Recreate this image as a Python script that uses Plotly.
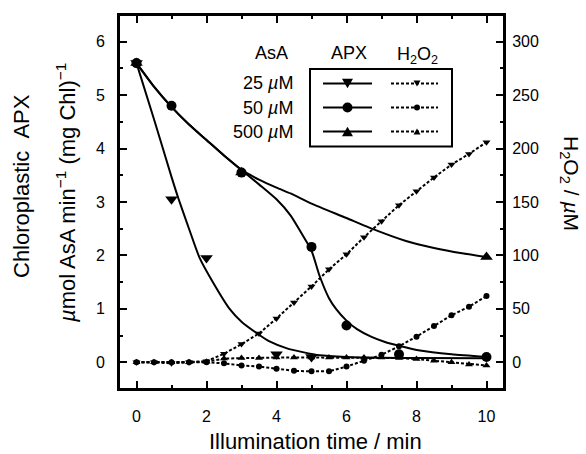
import plotly.graph_objects as go

# ---------------- data ----------------
# APX activity, measured points (left axis, µmol AsA min-1 (mg Chl)-1)
apx25_t = [0, 1, 2, 4, 5]
apx25_v = [5.6, 3.05, 1.95, 0.15, 0.1]
apx50_t = [0, 1, 3, 5, 6, 7.5, 10]
apx50_v = [5.6, 4.8, 3.55, 2.16, 0.69, 0.15, 0.1]
apx500_t = [0, 3, 10]
apx500_v = [5.6, 3.55, 1.97]

# fitted APX curves
fit25_t = [0, 0.5, 1.0, 1.2, 1.5, 1.8, 2.2, 2.66, 3.0, 3.47, 3.8, 4.3, 4.75, 5.23, 6, 7, 8, 10]
fit25_v = [5.6, 4.55, 3.47, 3.06, 2.5, 1.96, 1.48, 1.0, 0.76, 0.53, 0.39, 0.26, 0.19, 0.13, 0.1, 0.085, 0.08, 0.075]
fit50_t = [0, 0.5, 1, 1.5, 2, 2.5, 3, 3.5, 4.0, 4.4, 4.71, 5.0, 5.23, 5.5, 5.7, 6.0, 6.3, 6.7, 7.1, 7.5, 8.1, 9, 10]
fit50_v = [5.6, 5.16, 4.78, 4.45, 4.16, 3.87, 3.6, 3.33, 3.05, 2.75, 2.42, 2.09, 1.62, 1.2, 1.0, 0.78, 0.62, 0.48, 0.38, 0.31, 0.22, 0.15, 0.1]
fit500_t = [0, 0.5, 1, 1.5, 2, 2.5, 3, 3.5, 4, 4.4, 5, 6, 6.65, 7.7, 8.5, 9.3, 10]
fit500_v = [5.6, 5.16, 4.78, 4.45, 4.16, 3.87, 3.6, 3.42, 3.27, 3.16, 2.97, 2.7, 2.52, 2.27, 2.14, 2.04, 1.97]

# H2O2 concentration (right axis, µM)
h2o2_t = [0, 0.5, 1, 1.5, 2, 2.5, 3, 3.5, 4, 4.5, 5, 5.5, 6, 6.5, 7, 7.5, 8, 8.5, 9, 9.5, 10]
h2o2_25 = [0, 0, -1, 0, 1, 8, 17, 27, 41, 56, 71, 87, 101, 117, 132, 147, 160, 173, 185, 195, 206]
h2o2_50 = [0, 0, 0, 0, 0, -1, -3, -4, -6, -8, -8.5, -8.5, -4, 1.5, 7, 15, 24, 34, 44, 52, 62]
h2o2_500 = [0, 0, 0, 0, 0.5, 3.5, 4, 4, 4.5, 4.5, 4.5, 4.5, 4.5, 4.5, 4.5, 4, 3, 1.5, 0, -2, -3]

legend_rows = ["25 <i>µ</i>M", "50 <i>µ</i>M", "500 <i>µ</i>M"]
symbols = ["triangle-down", "circle", "triangle-up"]

# ---------------- figure ----------------
W, H = 586, 454
ML, MR, MT, MB = 119, 82, 15, 65
PW, PH = W - ML - MR, H - MT - MB
FONT = "Liberation Sans, Arial, sans-serif"


def px(xp):
    return (xp - ML) / PW


def py(yp):
    return (H - MB - yp) / PH


fig = go.Figure()

dash = "3px,2px"
for vals, sym in zip([h2o2_25, h2o2_50, h2o2_500], symbols):
    fig.add_trace(go.Scatter(
        x=h2o2_t, y=vals, yaxis="y2", mode="lines+markers",
        line=dict(color="black", width=2, dash=dash),
        marker=dict(symbol=sym, size=7 if sym != "circle" else 6, color="black"),
        showlegend=False, hoverinfo="skip"))

for ft, fv in [(fit25_t, fit25_v), (fit50_t, fit50_v), (fit500_t, fit500_v)]:
    fig.add_trace(go.Scatter(
        x=ft, y=fv, mode="lines",
        line=dict(color="black", width=2, shape="spline", smoothing=0.6),
        showlegend=False, hoverinfo="skip"))

for at, av, sym in [(apx25_t, apx25_v, "triangle-down"), (apx50_t, apx50_v, "circle"),
                    (apx500_t, apx500_v, "triangle-up")]:
    fig.add_trace(go.Scatter(
        x=at, y=av, mode="markers",
        marker=dict(symbol=sym, size=11 if sym != "circle" else 10, color="black"),
        showlegend=False, hoverinfo="skip"))

# ---------------- legend (drawn manually) ----------------
shapes = []
annotations = []
# plot frame
shapes.append(dict(type="rect", xref="paper", yref="paper", x0=0, x1=1, y0=0, y1=1,
                   line=dict(color="black", width=2), fillcolor="rgba(0,0,0,0)", layer="above"))
shapes.append(dict(type="rect", xref="paper", yref="paper",
                   x0=px(310), x1=px(452), y0=py(146.5), y1=py(69),
                   line=dict(color="black", width=2), fillcolor="rgba(0,0,0,0)"))
row_y = [83.5, 107.5, 131.5]


def marker_shape(cx, cy, sym, s):
    if sym == "circle":
        r = s / 2
        return dict(type="circle", xref="paper", yref="paper",
                    x0=px(cx - r), x1=px(cx + r), y0=py(cy + r), y1=py(cy - r),
                    line=dict(width=0), fillcolor="black")
    h = s * 0.85
    w = s
    if sym == "triangle-down":
        pts = [(cx - w / 2, cy - h / 2), (cx + w / 2, cy - h / 2), (cx, cy + h / 2)]
    else:
        pts = [(cx - w / 2, cy + h / 2), (cx + w / 2, cy + h / 2), (cx, cy - h / 2)]
    path = "M {:.5f},{:.5f} L {:.5f},{:.5f} L {:.5f},{:.5f} Z".format(
        px(pts[0][0]), py(pts[0][1]), px(pts[1][0]), py(pts[1][1]), px(pts[2][0]), py(pts[2][1]))
    return dict(type="path", xref="paper", yref="paper", path=path,
                line=dict(width=0), fillcolor="black")


for yy, sym, lab in zip(row_y, symbols, legend_rows):
    shapes.append(dict(type="line", xref="paper", yref="paper",
                       x0=px(323), x1=px(372), y0=py(yy), y1=py(yy),
                       line=dict(color="black", width=2)))
    shapes.append(dict(type="line", xref="paper", yref="paper",
                       x0=px(391), x1=px(438), y0=py(yy), y1=py(yy),
                       line=dict(color="black", width=2, dash=dash)))
    shapes.append(marker_shape(347.5, yy, sym, 11 if sym != "circle" else 10))
    shapes.append(marker_shape(417, yy, sym, 7 if sym != "circle" else 6))
    annotations.append(dict(xref="paper", yref="paper", x=px(295), y=py(yy),
                            xanchor="right", yanchor="middle", text=lab, showarrow=False,
                            font=dict(size=18, color="black", family=FONT)))

for txt, cx in [("AsA", 271.5), ("APX", 349), ("H<sub>2</sub>O<sub>2</sub>", 417)]:
    annotations.append(dict(xref="paper", yref="paper", x=px(cx), y=py(53.5 if cx < 400 else 55.5),
                            xanchor="center", yanchor="middle", text=txt, showarrow=False,
                            font=dict(size=18, color="black", family=FONT)))

# ---------------- axis titles ----------------
annotations.append(dict(xref="paper", yref="paper", x=px(315), y=py(441),
                        xanchor="center", yanchor="middle", showarrow=False,
                        text="Illumination time / min",
                        font=dict(size=22, color="black", family=FONT)))
annotations.append(dict(xref="paper", yref="paper", x=px(21), y=py(186),
                        xanchor="center", yanchor="middle", showarrow=False, textangle=-90,
                        text="Chloroplastic\u00a0\u00a0APX",
                        font=dict(size=22, color="black", family=FONT)))
annotations.append(dict(xref="paper", yref="paper", x=px(66), y=py(193),
                        xanchor="center", yanchor="middle", showarrow=False, textangle=-90,
                        text="<i>µ</i>mol AsA min<sup>−1</sup> (mg Chl)<sup>−1</sup>",
                        font=dict(size=22, color="black", family=FONT)))
annotations.append(dict(xref="paper", yref="paper", x=px(570), y=py(183),
                        xanchor="center", yanchor="middle", showarrow=False, textangle=90,
                        text="H<sub>2</sub>O<sub>2</sub> / <i>µ</i>M",
                        font=dict(size=21, color="black", family=FONT)))

tickfont = dict(size=16, color="black", family=FONT)
common = dict(showgrid=False, zeroline=False, showline=True, linecolor="black", linewidth=2,
              ticks="inside", tickcolor="black", tickwidth=1.5, ticklen=8, tickfont=tickfont)

fig.update_layout(
    width=W, height=H, autosize=False,
    margin=dict(l=ML, r=MR, t=MT, b=MB, pad=0),
    paper_bgcolor="white", plot_bgcolor="white",
    showlegend=False,
    xaxis=dict(range=[-0.5, 10.5], tick0=0, dtick=2, mirror="ticks", ticklabelstandoff=12,
               minor=dict(ticks="inside", dtick=1, ticklen=4, tickcolor="black", tickwidth=1.5),
               **common),
    yaxis=dict(range=[-0.5, 6.5], tick0=0, dtick=1, ticklabelstandoff=9,
               minor=dict(ticks="inside", dtick=0.5, ticklen=4, tickcolor="black", tickwidth=1.5),
               **common),
    yaxis2=dict(range=[-25, 325], tick0=0, dtick=50, overlaying="y", side="right",
                ticklabelstandoff=3,
                minor=dict(ticks="inside", dtick=25, ticklen=4, tickcolor="black", tickwidth=1.5),
                **common),
    shapes=shapes,
    annotations=annotations,
)

fig.write_html("out.html", config={"displayModeBar": False},
               post_script="document.body.style.margin='0';document.body.style.overflow='hidden';")
